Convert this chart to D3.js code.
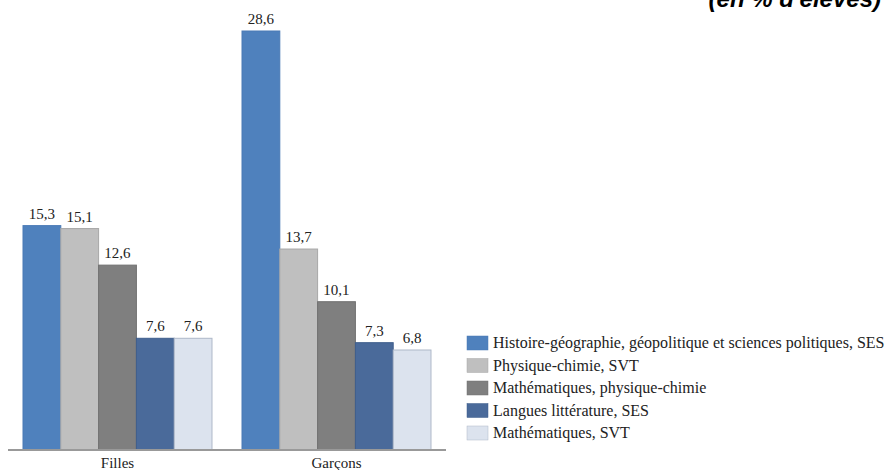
<!DOCTYPE html>
<html>
<head>
<meta charset="utf-8">
<script src="https://cdn.jsdelivr.net/npm/d3@7"></script>
<style>
  body { margin: 0; background: #fff; }
  svg { display: block; }
</style>
</head>
<body>
<div id="chart"></div>
<script>
// Data
const categories = ["Filles", "Garçons"];
const series = [
  "Histoire-géographie, géopolitique et sciences politiques, SES",
  "Physique-chimie, SVT",
  "Mathématiques, physique-chimie",
  "Langues littérature, SES",
  "Mathématiques, SVT"
];
const fillesValues = [15.3, 15.1, 12.6, 7.6, 7.6];
const garconsValues = [28.6, 13.7, 10.1, 7.3, 6.8];
const colors = ["#4F81BD", "#BFBFBF", "#7F7F7F", "#4A6A9A", "#DCE3EE"];
const strokes = ["#4A7AB5", "#A8A8A8", "#707070", "#3F5E8C", "#AEB8C8"];

const width = 886, height = 470;
const serif = "'Liberation Serif', 'Times New Roman', serif";

const svg = d3.select("#chart").append("svg")
  .attr("width", width)
  .attr("height", height);

const rows = categories.map((c, i) => ({
  category: c,
  values: series.map((s, j) => ({ series: s, idx: j, value: [fillesValues, garconsValues][i][j] }))
}));

// Scales
const x0 = d3.scaleBand()
  .domain(categories)
  .range([8, 446])
  .paddingInner(0.137)
  .paddingOuter(0.0685);

const x1 = d3.scaleBand()
  .domain(d3.range(series.length))
  .range([0, x0.bandwidth()]);

const y = d3.scaleLinear()
  .domain([0, 28.6])
  .range([449.5, 31]);

const fmt = v => d3.format(".1f")(v).replace(".", ",");

// Bars
const groups = svg.selectAll(".group")
  .data(rows)
  .enter().append("g")
  .attr("class", "group")
  .attr("transform", d => `translate(${x0(d.category)},0)`);

groups.selectAll("rect")
  .data(d => d.values)
  .enter().append("rect")
  .attr("x", d => x1(d.idx))
  .attr("y", d => y(d.value))
  .attr("width", x1.bandwidth())
  .attr("height", d => y(0) - y(d.value))
  .attr("fill", d => colors[d.idx])
  .attr("stroke", d => strokes[d.idx])
  .attr("stroke-width", 1);

// Value labels
groups.selectAll(".label")
  .data(d => d.values)
  .enter().append("text")
  .attr("class", "label")
  .attr("x", d => x1(d.idx) + x1.bandwidth() / 2)
  .attr("y", d => y(d.value) - 7)
  .attr("text-anchor", "middle")
  .style("font-family", serif)
  .style("font-size", "15px")
  .style("fill", "#222")
  .text(d => fmt(d.value));

// X axis
const xAxis = svg.append("g")
  .attr("transform", `translate(0,${y(0)})`)
  .call(d3.axisBottom(x0).tickSize(0).tickPadding(8));

xAxis.select(".domain")
  .attr("d", `M8,0.5H446`)
  .attr("stroke", "#999")
  .attr("stroke-width", 2);

xAxis.selectAll("text")
  .style("font-family", serif)
  .style("font-size", "15px")
  .style("fill", "#222");

// Legend
const legend = svg.append("g")
  .attr("transform", "translate(467,336)");

const item = legend.selectAll(".item")
  .data(series)
  .enter().append("g")
  .attr("class", "item")
  .attr("transform", (d, i) => `translate(0,${i * 22.5})`);

item.append("rect")
  .attr("width", 21)
  .attr("height", 14)
  .attr("fill", (d, i) => colors[i])
  .attr("stroke", (d, i) => strokes[i])
  .attr("stroke-width", 0.5);

item.append("text")
  .attr("x", 26)
  .attr("y", 12)
  .style("font-family", serif)
  .style("font-size", "16px")
  .style("fill", "#222")
  .text(d => d);

// Clipped title at top right
svg.append("text")
  .attr("x", 881)
  .attr("y", 7)
  .attr("text-anchor", "end")
  .style("font-family", "'Liberation Sans', Arial, sans-serif")
  .style("font-size", "24px")
  .style("font-style", "italic")
  .style("font-weight", "bold")
  .style("fill", "#000")
  .text("(en % d'élèves)");
</script>
</body>
</html>
